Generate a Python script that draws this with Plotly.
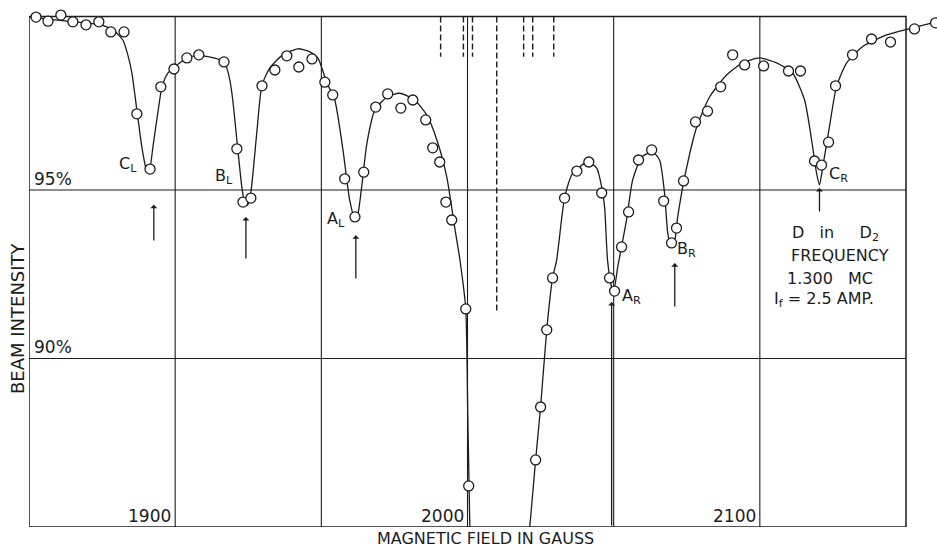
import plotly.graph_objects as go

# ---- data ----
field_pts = [1852.4, 1856.5, 1860.9, 1865.0, 1869.5, 1873.9, 1878.0, 1882.5, 1886.9, 1891.4,
             1895.1, 1899.6, 1904.0, 1908.1, 1916.7, 1921.1, 1923.2, 1925.9, 1929.7, 1934.1,
             1938.2, 1942.3, 1946.8, 1951.2, 1953.9, 1958.0, 1961.5, 1964.5, 1968.6, 1972.7,
             1977.2, 1981.3, 1985.7, 1988.1, 1990.5, 1992.6, 1994.6, 1999.4, 2000.4, 2023.3,
             2025.0, 2027.1, 2029.1, 2033.2, 2037.4, 2041.5, 2045.9, 2048.6, 2050.3, 2052.7,
             2055.1, 2058.5, 2063.0, 2067.1, 2069.8, 2071.5, 2073.9, 2078.0, 2082.1, 2086.6,
             2090.7, 2094.8, 2101.3, 2109.8, 2113.9, 2118.7, 2121.1, 2123.5, 2125.9, 2131.7,
             2138.2, 2144.7, 2152.9, 2160.1]
intensity_pts = [100.13, 100.01, 100.19, 99.99, 99.90, 99.99, 99.69, 99.69, 97.26, 95.62,
                 98.06, 98.59, 98.92, 99.01, 98.80, 96.22, 94.64, 94.76, 98.09, 98.56,
                 98.98, 98.65, 98.89, 98.20, 97.82, 95.33, 94.20, 95.53, 97.46, 97.85,
                 97.43, 97.67, 97.08, 96.25, 95.83, 94.64, 94.11, 91.47, 86.22, 86.99,
                 88.56, 90.85, 92.39, 94.76, 95.56, 95.83, 94.91, 92.39, 92.00, 93.31,
                 94.35, 95.89, 96.19, 94.67, 93.43, 93.87, 95.27, 97.02, 97.34, 98.06,
                 99.01, 98.71, 98.68, 98.53, 98.53, 95.86, 95.74, 96.42, 98.09, 99.01,
                 99.48, 99.39, 99.78, 99.96]

# hand-drawn fitted curve (two pieces, the centre dips off scale)
curve_left_x = [1850.0, 1863.0, 1874.3, 1878.7, 1882.1, 1883.8, 1885.2, 1886.9, 1888.6, 1890.0,
                1890.7, 1891.4, 1892.4, 1894.1, 1895.5, 1897.5, 1900.6, 1905.0, 1909.5, 1915.3,
                1917.4, 1918.7, 1919.7, 1921.1, 1922.8, 1923.8, 1924.8, 1925.9, 1927.9, 1929.7,
                1932.4, 1936.8, 1942.0, 1946.1, 1948.8, 1951.9, 1954.6, 1957.4, 1959.7, 1961.5,
                1962.5, 1963.8, 1965.6, 1968.3, 1972.4, 1976.8, 1981.9, 1986.1, 1989.5, 1992.9,
                1995.6, 1997.4, 1999.4, 2000.1, 2000.8, 2001.1]
curve_left_y = [100.13, 100.01, 99.90, 99.75, 99.45, 99.01, 98.47, 97.37, 96.28, 95.65,
                95.53, 95.65, 96.28, 97.31, 98.06, 98.47, 98.71, 98.95, 98.98, 98.86,
                98.68, 98.26, 97.67, 96.49, 95.09, 94.61, 94.55, 94.94, 96.68, 98.12,
                98.62, 99.01, 99.19, 99.10, 98.92, 98.18, 97.67, 96.19, 94.70, 94.14,
                94.29, 95.09, 96.39, 97.37, 97.75, 97.87, 97.67, 97.22, 96.49, 95.39,
                93.90, 92.93, 91.47, 88.26, 85.00, 84.0]
curve_right_x = [2020.3, 2023.3, 2025.0, 2027.1, 2029.1, 2030.5, 2033.2, 2036.0, 2041.1, 2044.2,
                 2045.9, 2046.9, 2047.9, 2049.3, 2050.0, 2051.4, 2054.4, 2056.5, 2059.6, 2063.3,
                 2065.7, 2067.4, 2068.5, 2069.5, 2070.9, 2071.9, 2074.3, 2078.4, 2082.8, 2088.6,
                 2094.1, 2099.9, 2105.7, 2111.2, 2115.3, 2117.7, 2119.4, 2120.4, 2121.5, 2123.8,
                 2126.2, 2129.7, 2135.1, 2143.3, 2152.2, 2160.4]
curve_right_y = [84.0, 86.99, 88.56, 90.85, 92.39, 92.92, 94.76, 95.50, 95.83, 95.65,
                 95.09, 94.49, 92.92, 92.12, 92.00, 92.72, 94.11, 95.30, 95.98, 96.13,
                 95.89, 94.91, 93.72, 93.37, 93.52, 94.20, 95.39, 96.87, 97.76, 98.41,
                 98.77, 98.92, 98.77, 98.47, 97.67, 96.49, 95.50, 95.15, 95.68, 96.87,
                 98.06, 98.77, 99.25, 99.60, 99.81, 99.99]

# dashed marker lines at the top
short_dash_x = [1990.8, 1998.6, 2001.7, 2019.2, 2022.3, 2029.5]
short_dash_bottom = 98.95
long_dash_x = [2010.0]
long_dash_bottom = 91.35

# arrows: position, tail, tip
arrow_x = [1892.7, 1924.2, 1961.8, 2049.3, 2070.9, 2120.4]
arrow_tail = [93.46, 92.92, 92.33, 85.0, 91.50, 94.32]
arrow_tip = [94.56, 94.20, 93.66, 91.68, 92.83, 95.06]

# peak labels
label_text = ["C<sub>L</sub>", "B<sub>L</sub>", "A<sub>L</sub>", "A<sub>R</sub>", "B<sub>R</sub>", "C<sub>R</sub>"]
label_x = [1883.8, 1916.7, 1955.0, 2056.0, 2075.0, 2127.0]
label_y = [95.77, 95.39, 94.11, 91.85, 93.22, 95.45]

NB = "\u00a0"
note_lines = [f"D{NB}{NB}{NB}in{NB}{NB}{NB}{NB}{NB}D<sub>2</sub>", "FREQUENCY",
              f"1.300{NB}{NB}{NB}MC", f"I<sub>f</sub>{NB}={NB}2.5{NB}AMP."]
note_x = [2110.2, 2110.0, 2108.5, 2104.0]
note_y = [93.72, 93.07, 92.36, 91.74]

x_grid = [1900, 1950, 2000, 2050, 2100]
y_grid = [90, 95]
x_ticklabels = ["1900", "2000", "2100"]
x_tickpos = [1900, 2000, 2100]
y_ticklabels = ["95%", "90%"]
y_tickpos = [95, 90]

X_MIN, X_MAX = 1850, 2150
Y_MIN, Y_TOP = 85, 100.15

INK = "#1c1c1c"
FONT = "DejaVu Sans"

fig = go.Figure()

# curve
for cx, cy in ((curve_left_x, curve_left_y), (curve_right_x, curve_right_y)):
    fig.add_trace(go.Scatter(x=cx, y=cy, mode="lines",
                             line=dict(color=INK, width=1.3, shape="spline", smoothing=0.6),
                             hoverinfo="skip", showlegend=False))

# dashed lines
for xv in short_dash_x:
    fig.add_trace(go.Scatter(x=[xv, xv], y=[Y_TOP, short_dash_bottom], mode="lines",
                             line=dict(color=INK, width=1.4, dash="6px,3px"),
                             hoverinfo="skip", showlegend=False))
for xv in long_dash_x:
    fig.add_trace(go.Scatter(x=[xv, xv], y=[Y_TOP, long_dash_bottom], mode="lines",
                             line=dict(color=INK, width=1.4, dash="6px,3px"),
                             hoverinfo="skip", showlegend=False))

# data points
fig.add_trace(go.Scatter(x=field_pts, y=intensity_pts, mode="markers", cliponaxis=False,
                         marker=dict(symbol="circle", size=10, color="white",
                                     line=dict(color=INK, width=1.3)),
                         showlegend=False))

shapes = []
shapes.append(dict(type="rect", xref="x", yref="y", x0=X_MIN, x1=X_MAX, y0=Y_MIN, y1=Y_TOP,
                   line=dict(color=INK, width=1.5), layer="below"))
for gx in x_grid:
    shapes.append(dict(type="line", xref="x", yref="y", x0=gx, x1=gx, y0=Y_MIN, y1=Y_TOP,
                       line=dict(color=INK, width=1.1), layer="below"))
for gy in y_grid:
    shapes.append(dict(type="line", xref="x", yref="y", x0=X_MIN, x1=X_MAX, y0=gy, y1=gy,
                       line=dict(color=INK, width=1.1), layer="below"))

annotations = []
for ax_, tl, tp in zip(arrow_x, arrow_tail, arrow_tip):
    annotations.append(dict(x=ax_, y=tp, ax=ax_, ay=tl, xref="x", yref="y", axref="x", ayref="y",
                            text="", showarrow=True, arrowhead=1, arrowsize=0.9,
                            arrowwidth=1.3, arrowcolor=INK))
for t, xv, yv in zip(label_text, label_x, label_y):
    annotations.append(dict(x=xv, y=yv, xref="x", yref="y", text=t, showarrow=False,
                            font=dict(family=FONT, size=16, color=INK)))
for t, xv, yv in zip(note_lines, note_x, note_y):
    annotations.append(dict(x=xv, y=yv, xref="x", yref="y", text=t, showarrow=False,
                            xanchor="left",
                            font=dict(family=FONT, size=16, color=INK)))
for t, yv in zip(y_ticklabels, y_tickpos):
    annotations.append(dict(x=X_MIN, y=yv, xref="x", yref="y", text=t, showarrow=False,
                            xanchor="left", yanchor="bottom", xshift=3, yshift=-1,
                            font=dict(family=FONT, size=17, color=INK)))
for t, xv in zip(x_ticklabels, x_tickpos):
    annotations.append(dict(x=xv, y=Y_MIN, xref="x", yref="y", text=t, showarrow=False,
                            xanchor="right", yanchor="bottom", xshift=-2, yshift=-1,
                            font=dict(family=FONT, size=17, color=INK)))
annotations.append(dict(x=2006.2, y=-22 / 519, xref="x", yref="paper", text="MAGNETIC FIELD IN GAUSS",
                        showarrow=False, yanchor="bottom", borderpad=0,
                        font=dict(family=FONT, size=16, color=INK)))
annotations.append(dict(x=0, y=91.2, xref="paper", yref="y", text="BEAM INTENSITY",
                        showarrow=False, textangle=-90, xanchor="center", xshift=-12,
                        font=dict(family=FONT, size=18, color=INK)))

fig.update_layout(
    width=937, height=549,
    margin=dict(l=29, r=0, t=8, b=22),
    paper_bgcolor="white", plot_bgcolor="white",
    xaxis=dict(range=[1850, 2160.6], showgrid=False, zeroline=False, showticklabels=False,
               ticks="", showline=False, fixedrange=True),
    yaxis=dict(range=[85, 100.4], showgrid=False, zeroline=False, showticklabels=False,
               ticks="", showline=False, fixedrange=True),
    shapes=shapes, annotations=annotations, showlegend=False,
)

fig.write_html("out.html", config={"displayModeBar": False},
               post_script="document.body.style.margin='0';document.body.style.padding='0';"
                           "document.documentElement.style.overflow='hidden';")
